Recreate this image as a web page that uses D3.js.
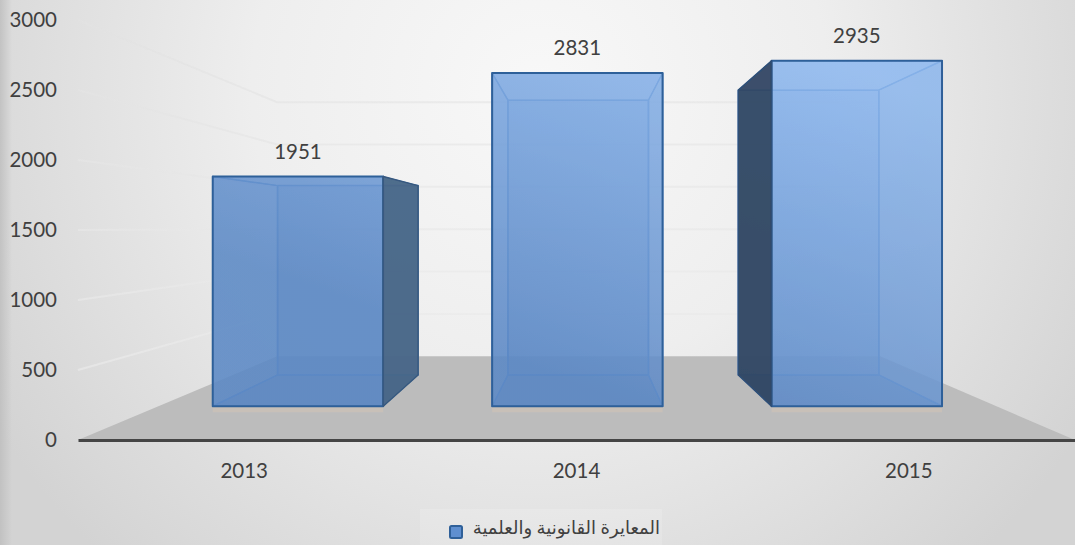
<!DOCTYPE html>
<html>
<head>
<meta charset="utf-8">
<script src="https://cdnjs.cloudflare.com/ajax/libs/d3/7.8.5/d3.min.js"></script>
<style>
  html, body { margin: 0; padding: 0; overflow: hidden; background: #e6e6e6; }
  svg { display: block; }
  text { font-family: Lato, sans-serif; fill: #404040; }
</style>
</head>
<body>
<script>
const years = ["2013", "2014", "2015"];
const counts = [1951, 2831, 2935];
const yTicks = [0, 500, 1000, 1500, 2000, 2500, 3000];
const legendLabel = "المعايرة القانونية والعلمية";

const width = 1075, height = 545;

// flat scales for the front plane of the chart box
const x = d3.scaleBand(years, [78, 1075]).paddingInner(0.39).paddingOuter(0.195);
const y = d3.scaleLinear([0, 3000], [440, 20]);

// perspective: everything shrinks towards the vanishing point with depth (0 front, 1 back)
const vanish = {x: 582, y: 228};
const depthScale = d => 1 / (1 + 0.653 * d);
const barFront = 0.29, barBack = 0.678;

function project(px, value, depth) {
  const k = depthScale(depth);
  return [vanish.x + (px - vanish.x) * k, vanish.y + (y(value) - vanish.y) * k];
}

const svg = d3.select("body").append("svg")
  .attr("width", width)
  .attr("height", height)
  .attr("viewBox", [0, 0, width, height]);

const defs = svg.append("defs");

// chart area background
const bg = defs.append("radialGradient").attr("id", "bg")
  .attr("gradientUnits", "userSpaceOnUse")
  .attr("cx", 540).attr("cy", 90).attr("r", 640);
bg.append("stop").attr("offset", 0).attr("stop-color", "#f8f8f8");
bg.append("stop").attr("offset", 0.45).attr("stop-color", "#eeeeee");
bg.append("stop").attr("offset", 1).attr("stop-color", "#d3d3d3");

const edge = defs.append("linearGradient").attr("id", "edge");
edge.append("stop").attr("offset", 0).attr("stop-color", "#bdbdbd").attr("stop-opacity", 0.8);
edge.append("stop").attr("offset", 1).attr("stop-color", "#bdbdbd").attr("stop-opacity", 0);

// the bars get lighter towards the upper right of the picture
const blue = defs.append("linearGradient").attr("id", "blue")
  .attr("gradientUnits", "userSpaceOnUse")
  .attr("x1", 860).attr("y1", 70).attr("x2", 725).attr("y2", 439);
blue.append("stop").attr("offset", 0).attr("stop-color", "#8fb9ef");
blue.append("stop").attr("offset", 1).attr("stop-color", "#5c88c4");

const grid = defs.append("linearGradient").attr("id", "grid")
  .attr("gradientUnits", "userSpaceOnUse")
  .attr("x1", 0).attr("y1", 20).attr("x2", 0).attr("y2", 400);
grid.append("stop").attr("offset", 0).attr("stop-color", "#e2e2e2");
grid.append("stop").attr("offset", 1).attr("stop-color", "#ececec");

const soft = defs.append("filter").attr("id", "soft");
soft.append("feGaussianBlur").attr("stdDeviation", 0.6);

svg.append("rect").attr("width", width).attr("height", height).attr("fill", "url(#bg)");
svg.append("rect").attr("width", 12).attr("height", height).attr("fill", "url(#edge)");

// gridlines run along the left wall, then across the back wall
const boxLeft = x.range()[0], boxRight = x.range()[1];
const line = d3.line();
svg.append("g").attr("filter", "url(#soft)").selectAll("path")
  .data(yTicks.slice(1))
  .join("path")
    .attr("d", v => line([project(boxLeft, v, 0), project(boxLeft, v, 1), project(boxRight, v, 1)]))
    .attr("fill", "none")
    .attr("stroke", "url(#grid)")
    .attr("stroke-opacity", 0.65)
    .attr("stroke-width", 2);

// floor
svg.append("path")
  .attr("d", line([
    project(boxLeft, 0, 0), project(boxRight, 0, 0),
    project(boxRight, 0, 1), project(boxLeft, 0, 1)
  ]) + "Z")
  .attr("fill", "#bcbcbc");

// bars, drawn as see-through boxes
const bars = svg.append("g").attr("filter", "url(#soft)");
years.forEach((year, i) => {
  const l = x(year), r = x(year) + x.bandwidth(), v = counts[i];
  const fTL = project(l, v, barFront), fTR = project(r, v, barFront);
  const fBL = project(l, 0, barFront), fBR = project(r, 0, barFront);
  const bTL = project(l, v, barBack), bTR = project(r, v, barBack);
  const bBL = project(l, 0, barBack), bBR = project(r, 0, barBack);

  const g = bars.append("g");
  const face = (pts, fill, opacity, stroke, sw) => g.append("path")
    .attr("d", line(pts) + "Z")
    .attr("fill", fill)
    .attr("fill-opacity", opacity)
    .attr("stroke", stroke)
    .attr("stroke-width", sw)
    .attr("stroke-linejoin", "round");

  // soft reflection on the floor just under the bar
  g.append("rect")
    .attr("x", fBL[0]).attr("y", fBL[1])
    .attr("width", fBR[0] - fBL[0]).attr("height", 6)
    .attr("fill", "#c8c0b8");

  const inner = "#5a8cca";
  // back, floor and ceiling seen through the front
  face([bTL, bTR, bBR, bBL], "url(#blue)", 0.6, inner, 1.5);
  face([bBL, bBR, fBR, fBL], "#4a7ab8", 0.55, inner, 1);
  face([bTL, bTR, fTR, fTL], "url(#blue)", 0.4, inner, 1);

  // a side face pointing away from the vanishing point is outside and dark
  const leftOuter = bTL[0] < fTL[0], rightOuter = bTR[0] > fTR[0];
  if (!leftOuter) face([fTL, bTL, bBL, fBL], "#5488c8", 0.4, inner, 1.5);
  if (!rightOuter) face([fTR, bTR, bBR, fBR], "#5f8ecb", 0.3, inner, 1.5);

  face([fTL, fTR, fBR, fBL], "url(#blue)", 0.8, "#2f6099", 2);

  if (leftOuter) face([fTL, bTL, bBL, fBL], "#2f4460", 0.92, "#2f4f78", 1.5);
  if (rightOuter) face([fTR, bTR, bBR, fBR], "#476585", 0.92, "#37597f", 1.5);
});

// data labels
svg.append("g").selectAll("text")
  .data(years)
  .join("text")
    .attr("x", d => project(x(d) + x.bandwidth() / 2, 0, barFront)[0])
    .attr("y", (d, i) => project(x(d), counts[i], barFront)[1] - 25)
    .attr("dy", "0.35em")
    .attr("text-anchor", "middle")
    .attr("font-size", 20.5)
    .text((d, i) => counts[i]);

// axes
const yAxis = svg.append("g")
  .attr("transform", "translate(66,0)")
  .call(d3.axisLeft(y).tickValues(yTicks).tickFormat(d3.format("d")).tickSize(0).tickPadding(9));
yAxis.select(".domain").remove();
yAxis.selectAll("text").attr("font-family", "Lato").attr("font-size", 20.5).attr("fill", "#404040");

const xAxis = svg.append("g")
  .attr("transform", "translate(0,440)")
  .call(d3.axisBottom(x).tickSize(0).tickPadding(23));
xAxis.select(".domain").attr("stroke", "#454545").attr("stroke-width", 3);
xAxis.selectAll("text").attr("font-family", "Lato").attr("font-size", 20.5).attr("fill", "#404040");

// legend
svg.append("rect")
  .attr("x", 420).attr("y", 509).attr("width", 242).attr("height", 36)
  .attr("fill", "#ffffff").attr("fill-opacity", 0.15);
svg.append("rect")
  .attr("x", 450).attr("y", 526).attr("width", 12).attr("height", 12).attr("rx", 1.5)
  .attr("fill", "#5f8fd0").attr("stroke", "#2f6099").attr("stroke-width", 2);
svg.append("text")
  .attr("x", 660).attr("y", 534)
  .attr("direction", "rtl")
  .attr("font-size", 18)
  .style("font-family", "'Liberation Serif', 'DejaVu Sans', serif")
  .text(legendLabel);
</script>
</body>
</html>
